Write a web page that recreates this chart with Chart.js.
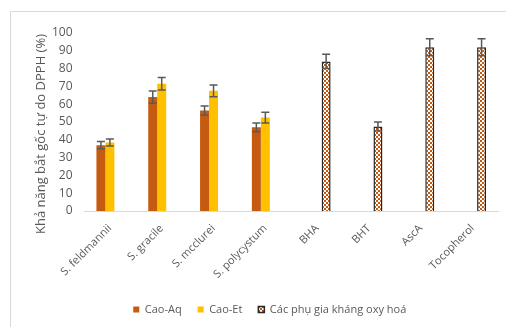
<!DOCTYPE html>
<html>
<head>
<meta charset="utf-8">
<script src="https://cdn.jsdelivr.net/npm/chart.js@4/dist/chart.umd.min.js"></script>
<style>
  html, body { margin: 0; padding: 0; background: #ffffff; }
  #wrap { width: 506px; height: 327px; }
</style>
</head>
<body>
<div id="wrap"><canvas id="c" width="506" height="327"></canvas></div>
<script>
// Categories: four seaweed extracts followed by reference antioxidants
const categories = ['S. feldmannii', 'S. gracile', 'S. mcclurei', 'S. polycystum', 'BHA', 'BHT', 'AscA', 'Tocopherol'];

// DPPH radical scavenging (%) and standard deviations
const caoAq      = [37, 64, 56.5, 47, null, null, null, null];
const caoAqErr   = [2, 3.4, 2.5, 2.5, null, null, null, null];
const caoEt      = [38.5, 71.5, 67.5, 52.5, null, null, null, null];
const caoEtErr   = [2, 3.5, 3.3, 3, null, null, null, null];
const phuGia     = [null, null, null, null, 84, 47.5, 92, 92];
const phuGiaErr  = [null, null, null, null, 4, 2.5, 4.8, 4.8];

const yTicksMax = 100;
const yTickStep = 10;
const yTitle = 'Khả năng bắt gốc tự do DPPH (%)';
const seriesNames = ['Cao-Aq', 'Cao-Et', 'Các phụ gia kháng oxy hoá'];

const TEXT = '#595959';
const FONT = "'Open Sans', sans-serif";

// Orange / white checkerboard fill for the antioxidant standards
function checker() {
  const p = document.createElement('canvas');
  p.width = 4; p.height = 4;
  const g = p.getContext('2d');
  g.fillStyle = '#ffffff';
  g.fillRect(0, 0, 4, 4);
  g.fillStyle = '#C55A11';
  g.fillRect(0, 0, 2, 2);
  g.fillRect(2, 2, 2, 2);
  return g.createPattern(p, 'repeat');
}

// Light grey frame around the figure
const framePlugin = {
  id: 'frame',
  beforeDraw(chart) {
    const ctx = chart.ctx;
    ctx.save();
    ctx.strokeStyle = '#d9d9d9';
    ctx.lineWidth = 1;
    ctx.strokeRect(10.5, 11.5, 600, 400);
    ctx.restore();
  }
};

// Vertical axis title
const yTitlePlugin = {
  id: 'yTitle',
  afterDraw(chart) {
    const ctx = chart.ctx;
    ctx.save();
    ctx.translate(41, 134);
    ctx.rotate(-Math.PI / 2);
    ctx.font = '13px ' + FONT;
    ctx.fillStyle = TEXT;
    ctx.textAlign = 'center';
    ctx.textBaseline = 'middle';
    ctx.fillText(yTitle, 0, 0);
    ctx.restore();
  }
};

// Error bars (± standard deviation) on each bar
const errorBarPlugin = {
  id: 'errorBars',
  afterDatasetsDraw(chart) {
    const ctx = chart.ctx;
    const y = chart.scales.y;
    ctx.save();
    ctx.strokeStyle = '#595959';
    ctx.lineWidth = 1.5;
    chart.data.datasets.forEach((ds, di) => {
      const meta = chart.getDatasetMeta(di);
      meta.data.forEach((el, i) => {
        const v = ds.data[i];
        const e = ds.errors[i];
        if (v == null || e == null) return;
        const x = el.x;
        const top = y.getPixelForValue(v + e);
        const bot = y.getPixelForValue(v - e);
        const cap = 4;
        ctx.beginPath();
        ctx.moveTo(x, top); ctx.lineTo(x, bot);
        ctx.moveTo(x - cap, top); ctx.lineTo(x + cap, top);
        ctx.moveTo(x - cap, bot); ctx.lineTo(x + cap, bot);
        ctx.stroke();
      });
    });
    ctx.restore();
  }
};

new Chart(document.getElementById('c'), {
  type: 'bar',
  data: {
    labels: categories,
    datasets: [
      { label: seriesNames[0], data: caoAq, errors: caoAqErr, backgroundColor: '#C55A11', borderWidth: 0 },
      { label: seriesNames[1], data: caoEt, errors: caoEtErr, backgroundColor: '#FFC000', borderWidth: 0 },
      { label: seriesNames[2], data: phuGia, errors: phuGiaErr, backgroundColor: checker(), borderColor: '#262626', borderWidth: 1.5, borderSkipped: 'bottom' }
    ]
  },
  options: {
    responsive: false,
    animation: false,
    devicePixelRatio: 1,
    layout: { padding: { left: 41, top: 33, right: 7.5, bottom: 2 } },
    datasets: { bar: { categoryPercentage: 0.52, barPercentage: 1 } },
    plugins: {
      legend: {
        position: 'bottom',
        labels: {
          color: TEXT,
          font: { family: FONT, size: 11 },
          boxWidth: 6,
          boxHeight: 6,
          padding: 16
        }
      },
      tooltip: { enabled: false }
    },
    scales: {
      x: {
        grid: { display: false, drawTicks: false },
        border: { display: true, color: '#d9d9d9', width: 1 },
        ticks: {
          color: TEXT,
          font: { family: FONT, size: 11 },
          minRotation: 45,
          maxRotation: 45,
          autoSkip: false,
          padding: 11
        },
        afterFit(scale) { scale.height = 77; }
      },
      y: {
        min: 0,
        max: yTicksMax,
        grid: { display: false, drawTicks: false },
        border: { display: false },
        ticks: {
          stepSize: yTickStep,
          color: TEXT,
          font: { family: FONT, size: 12 },
          padding: 11.5
        },
        afterFit(scale) { scale.width = 43; }
      }
    }
  },
  plugins: [framePlugin, yTitlePlugin, errorBarPlugin]
});
</script>
</body>
</html>
